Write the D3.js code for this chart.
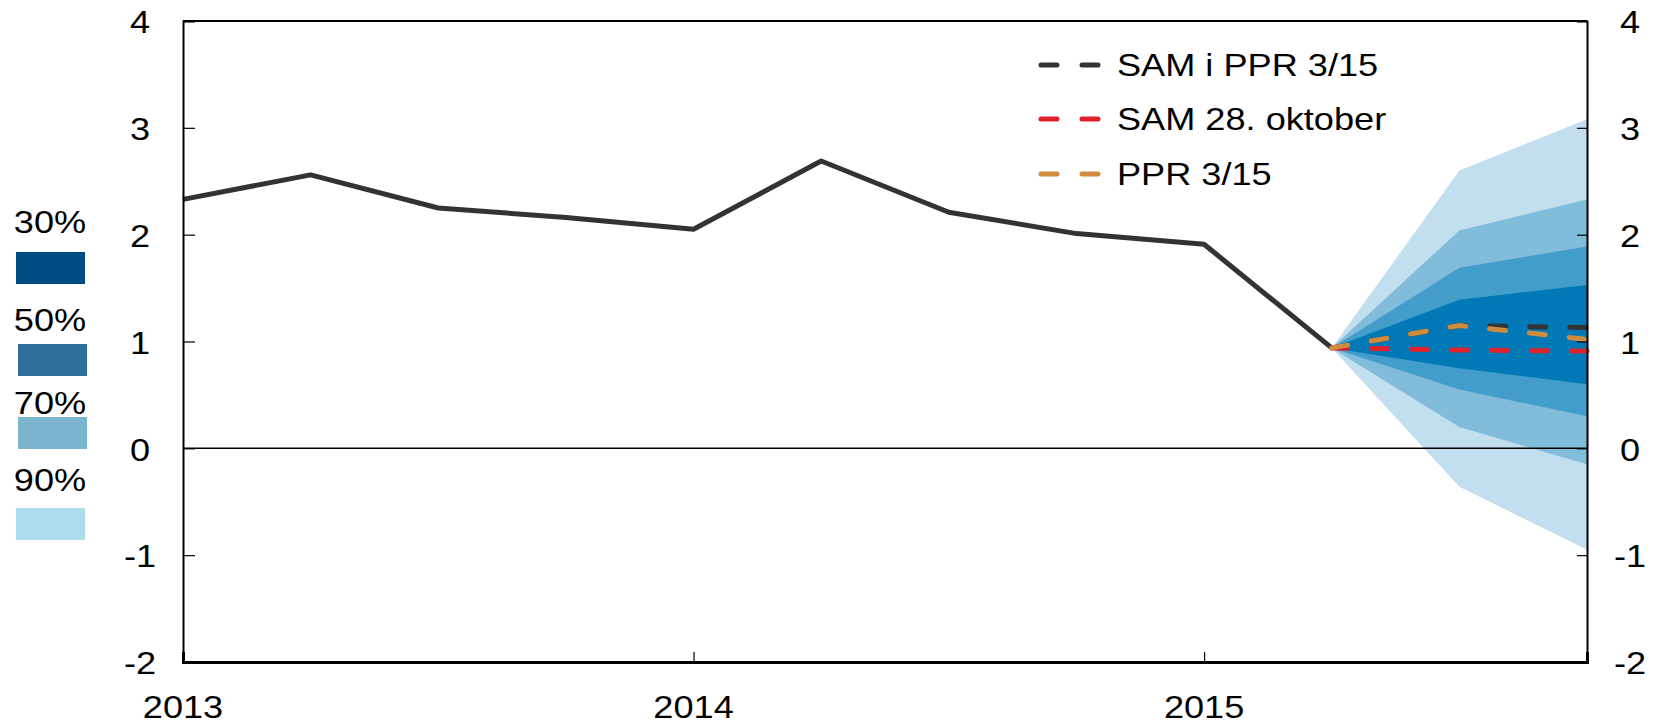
<!DOCTYPE html>
<html lang="no">
<head>
<meta charset="UTF-8" />
<title>SAM fan chart</title>
<script src="https://d3js.org/d3.v7.min.js"></script>
<style>
  html, body { margin: 0; padding: 0; background: #fff; }
  svg text { font-family: "Liberation Sans", Arial, sans-serif; fill: #000; }
</style>
</head>
<body>
<div id="chart"></div>
<script>
// quarters as fractional years
const quarters = [2013, 2013.25, 2013.5, 2013.75, 2014, 2014.25, 2014.5, 2014.75, 2015, 2015.25, 2015.5, 2015.75];
const history = [2.33, 2.56, 2.25, 2.16, 2.05, 2.69, 2.21, 2.01, 1.91, 0.94];

// projection quarters (start at last observed point)
const fanQuarters = [2015.25, 2015.5, 2015.75];
const fan90 = [[0.94, 0.94], [-0.36, 2.60], [-0.95, 3.08]];
const fan70 = [[0.94, 0.94], [0.20, 2.04], [-0.15, 2.33]];
const fan50 = [[0.94, 0.94], [0.55, 1.69], [0.30, 1.89]];
const fan30 = [[0.94, 0.94], [0.75, 1.39], [0.60, 1.53]];

const samPPR = [0.94, 1.15, 1.13];
const sam28okt = [0.94, 0.92, 0.91];
const ppr315 = [0.94, 1.15, 1.02];

const yTicks = [-2, -1, 0, 1, 2, 3, 4];
const xTicks = [2013, 2014, 2015];
const bandLabels = ["30%", "50%", "70%", "90%"];
const lineLabels = ["SAM i PPR 3/15", "SAM 28. oktober", "PPR 3/15"];

const width = 1660, height = 725;
const margin = { top: 21, right: 73, bottom: 63, left: 183 };

const svg = d3.select("#chart").append("svg")
  .attr("width", width).attr("height", height);

const x = d3.scaleLinear().domain([2013, 2015.75]).range([margin.left, width - margin.right]);
const y = d3.scaleLinear().domain([-2, 4]).range([height - margin.bottom, margin.top]);

// text is a bit wider than Liberation Sans, so stretch it horizontally
function label(px, py, txt, anchor) {
  return svg.append("text")
    .attr("transform", `translate(${px},${py}) scale(1.13,1)`)
    .attr("text-anchor", anchor || "middle")
    .attr("dominant-baseline", "central")
    .attr("font-size", 32)
    .text(txt);
}

// fan bands, outer first
const bandColors = ["#c1dfee", "#81bcda", "#429dcb", "#0079b6"];
const area = d3.area()
  .x((d, i) => x(fanQuarters[i]))
  .y0(d => y(d[0]))
  .y1(d => y(d[1]));
[fan90, fan70, fan50, fan30].forEach((band, i) => {
  svg.append("path").datum(band)
    .attr("fill", bandColors[i])
    .attr("d", area);
});

// zero line
svg.append("line")
  .attr("x1", x(2013)).attr("x2", x(2015.75))
  .attr("y1", y(0)).attr("y2", y(0))
  .attr("stroke", "#000").attr("stroke-width", 1.5);

// history line
const line = d3.line()
  .x((d, i) => x(quarters[i]))
  .y(d => y(d));
svg.append("path").datum(history)
  .attr("fill", "none")
  .attr("stroke", "#333")
  .attr("stroke-width", 5)
  .attr("stroke-linejoin", "round")
  .attr("d", line);

// dashed projections
const fanLine = d3.line()
  .x((d, i) => x(fanQuarters[i]))
  .y(d => y(d));
const dashColors = ["#333333", "#e0202a", "#d18b3d"];
[samPPR, sam28okt, ppr315].forEach((s, i) => {
  svg.append("path").datum(s)
    .attr("fill", "none")
    .attr("stroke", dashColors[i])
    .attr("stroke-width", 5)
    .attr("stroke-linecap", "round")
    .attr("stroke-dasharray", "16,24")
    .attr("d", fanLine);
});

// frame: top line
svg.append("line")
  .attr("x1", x(2013)).attr("x2", x(2015.75))
  .attr("y1", y(4)).attr("y2", y(4))
  .attr("stroke", "#000").attr("stroke-width", 2);

// axes
const yLeft = svg.append("g")
  .attr("transform", `translate(${x(2013)},0)`)
  .call(d3.axisRight(y).tickValues(yTicks).tickSize(12).tickFormat(""));
const yRight = svg.append("g")
  .attr("transform", `translate(${x(2015.75)},0)`)
  .call(d3.axisLeft(y).tickValues(yTicks).tickSize(10).tickFormat(""));
const xAxis = svg.append("g")
  .attr("transform", `translate(0,${y(-2)})`)
  .call(d3.axisTop(x).tickValues(xTicks).tickSize(10).tickFormat(""));

[yLeft, yRight, xAxis].forEach(g => {
  g.select(".domain").attr("stroke", "#000").attr("stroke-width", 2);
  g.selectAll(".tick line").attr("stroke", "#000").attr("stroke-width", 1.2);
});
xAxis.select(".domain").attr("stroke-width", 3);

// tick labels
yTicks.forEach(t => {
  label(140, y(t) + 1, t);
  label(1630, y(t) + 1, t);
});
xTicks.forEach(t => {
  label(x(t), 707, t);
});

// band legend (left)
const legendColors = ["#004b84", "#2e7099", "#7ab4cf", "#aedcef"];
const bandLegendY = [[222, 252], [320, 344], [403, 417], [480, 508]];
const bandLegendX = [16, 18, 18, 16];
bandLabels.forEach((lab, i) => {
  label(50, bandLegendY[i][0], lab);
  svg.append("rect").attr("x", bandLegendX[i]).attr("y", bandLegendY[i][1])
    .attr("width", 69).attr("height", 32)
    .attr("fill", legendColors[i]);
});

// line legend (top right)
const legendRowY = [65, 119, 174];
lineLabels.forEach((lab, i) => {
  svg.append("line")
    .attr("x1", 1041).attr("x2", 1098)
    .attr("y1", legendRowY[i]).attr("y2", legendRowY[i])
    .attr("stroke", dashColors[i]).attr("stroke-width", 5)
    .attr("stroke-linecap", "round").attr("stroke-dasharray", "16,25");
  label(1117, legendRowY[i], lab, "start");
});
</script>
</body>
</html>
